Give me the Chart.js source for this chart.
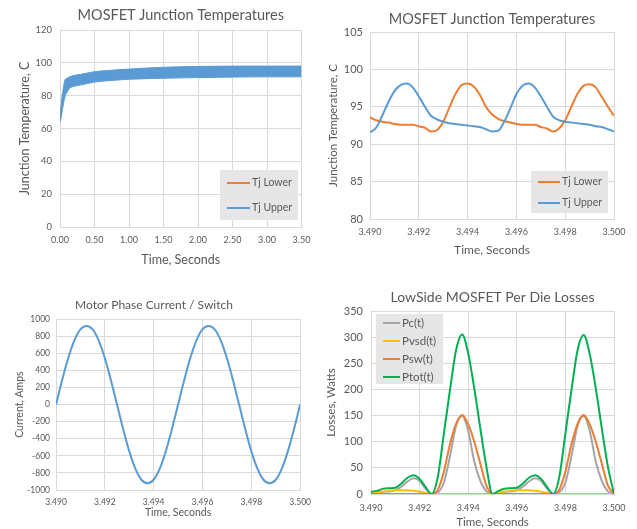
<!DOCTYPE html>
<html>
<head>
<meta charset="utf-8" />
<title>MOSFET charts</title>
<script src="https://cdn.jsdelivr.net/npm/chart.js@4.4.0/dist/chart.umd.min.js"></script>
<style>
  body { margin: 0; background: #fff; }
  #wrap { position: relative; width: 637px; height: 529px; }
  canvas { position: absolute; }
</style>
</head>
<body>
<div id="wrap">
  <canvas id="tjLong" width="318" height="272" style="left:0;top:0"></canvas>
  <canvas id="tjZoom" width="319" height="265" style="left:318px;top:0"></canvas>
  <canvas id="current" width="318" height="244" style="left:0;top:285px"></canvas>
  <canvas id="losses" width="319" height="249" style="left:318px;top:280px"></canvas>
</div>
<script>
// whole run, 0..3.5 s. Tj Upper is a dense ripple, kept here as its envelope
var longTime = [0, 0.02, 0.05, 0.07, 0.1, 0.14, 0.2, 0.3, 0.5, 0.75, 1.0, 1.5, 2.0, 2.5, 3.0, 3.5];
var upperMax = [64, 76, 85, 89.5, 90.5, 91.5, 92.3, 93, 94.6, 95.5, 96.2, 97.3, 97.8, 98, 98, 98];
var upperMin = [64, 68, 75, 79, 82, 84.5, 85.7, 86.5, 88.3, 89.3, 90, 90.6, 91, 91.3, 91.5, 91.5];
var lowerMid = [65, 72, 80, 84, 86, 88, 89, 89.8, 91.5, 92.4, 93.1, 94, 94.4, 94.6, 94.8, 94.8];

// last 10 ms of the run
var t = [3.49, 3.49025, 3.4905, 3.49075, 3.491, 3.49125, 3.4915, 3.49175, 3.492, 3.49225,
         3.4925, 3.49275, 3.493, 3.49325, 3.4935, 3.49375, 3.494, 3.49425, 3.4945, 3.49475,
         3.495, 3.49525, 3.4955, 3.49575, 3.496, 3.49625, 3.4965, 3.49675, 3.497, 3.49725,
         3.4975, 3.49775, 3.498, 3.49825, 3.4985, 3.49875, 3.499, 3.49925, 3.4995, 3.49975, 3.5];

var tjLower = [93.6, 93.2, 93.0, 92.9, 92.7, 92.6, 92.6, 92.6, 92.4, 92.2,
               91.7, 91.9, 93.0, 94.9, 96.7, 97.9, 98.1, 97.7, 96.6, 95.0,
               94.0, 93.4, 93.1, 92.9, 92.7, 92.6, 92.6, 92.6, 92.3, 92.1,
               91.7, 92.1, 93.2, 95.0, 96.7, 97.8, 98.0, 97.6, 96.3, 95.0, 93.8];
var tjUpper = [91.6, 92.2, 93.8, 95.6, 97.1, 97.9, 98.1, 97.6, 96.4, 95.0,
               93.8, 93.3, 93.0, 92.8, 92.7, 92.6, 92.5, 92.4, 92.3, 92.0,
               91.7, 91.8, 93.0, 94.8, 96.7, 97.8, 98.1, 97.6, 96.4, 95.0,
               93.7, 93.2, 93.0, 92.9, 92.8, 92.7, 92.6, 92.4, 92.3, 92.0, 91.7];

var phaseAmps = [0, 285, 545, 750, 880, 920, 880, 750, 545, 285,
                 0, -285, -545, -750, -880, -920, -880, -750, -545, -285,
                 0, 285, 545, 750, 880, 920, 880, 750, 545, 285,
                 0, -285, -545, -750, -880, -920, -880, -750, -545, -285, 0];

var pc   = [0, 1, 4, 5, 7, 14, 24, 30, 25, 10,
            0, 3, 22, 72, 130, 149, 121, 62, 25, 5,
            0, 1, 4, 5, 7, 14, 24, 30, 25, 10,
            0, 3, 22, 72, 130, 149, 121, 62, 25, 5, 0];
var pvsd = [0, 3, 4.5, 6, 7, 7, 7, 6, 4.5, 2,
            0, 0, 0, 0, 0, 0, 0, 0, 0, 0,
            0, 3, 4.5, 6, 7, 7, 7, 6, 4.5, 2,
            0, 0, 0, 0, 0, 0, 0, 0, 0, 0, 0];
var psw  = [0, 0, 0, 0, 0, 0, 0, 0, 0, 0,
            0, 8, 43, 95, 134, 151, 133, 100, 58, 16,
            0, 0, 0, 0, 0, 0, 0, 0, 0, 0,
            0, 8, 43, 95, 134, 151, 133, 100, 58, 16, 0];
var ptot = [4, 6, 10, 11, 12, 20, 31, 36, 29, 13,
            0, 33, 116, 199, 275, 305, 269, 202, 125, 52,
            0, 6, 10, 11, 12, 20, 31, 36, 29, 13,
            0, 33, 116, 199, 275, 304, 268, 202, 125, 52, 0];

var BLUE = '#5b9bd5', ORANGE = '#ed7d31', GRAY = '#a5a5a5', YELLOW = '#ffc000', GREEN = '#00b050';
var GRID = '#d9d9d9', TEXT = '#595959';

Chart.defaults.font.family = 'Lato, sans-serif';
Chart.defaults.color = TEXT;
Chart.defaults.animation = false;
Chart.defaults.elements.point.radius = 0;
Chart.defaults.elements.line.cubicInterpolationMode = 'monotone';
Chart.defaults.elements.line.borderWidth = 2;

function pairs(xs, ys) {
  return xs.map(function (x, i) { return { x: x, y: ys[i] }; });
}

// Excel-like value axis, size forced so the plot boxes line up with the picture
function axis(o) {
  return {
    type: 'linear',
    min: o.min, max: o.max,
    grid: { color: GRID, drawTicks: false },
    border: { color: GRID },
    ticks: {
      stepSize: o.step, padding: o.pad, font: { size: o.tickSize },
      callback: function (v) { return o.digits ? v.toFixed(o.digits) : String(v); }
    },
    title: { display: true, text: o.title, font: { size: o.titleSize }, padding: o.titlePad },
    afterFit: function (s) { if (s.isHorizontal()) s.height = o.size; else s.width = o.size; }
  };
}

function title(text, size, top, bottom, full) {
  return { display: true, text: text, color: TEXT, fullSize: full,
           font: { size: size, weight: 'normal' }, padding: { top: top, bottom: bottom } };
}

// grey legend box sitting inside the plot, like the Excel one
var boxLegend = {
  id: 'boxLegend',
  afterDraw: function (chart, args, o) {
    var ctx = chart.ctx;
    var items = chart.data.datasets.filter(function (d) { return d.label; });
    ctx.save();
    ctx.fillStyle = '#e6e6e6';
    ctx.fillRect(o.x, o.y, o.w, o.h);
    ctx.font = o.size + 'px Lato, sans-serif';
    ctx.textBaseline = 'middle';
    items.forEach(function (d, i) {
      var y = o.y + o.first + i * o.gap;
      ctx.strokeStyle = d.borderColor;
      ctx.lineWidth = 2;
      ctx.beginPath();
      ctx.moveTo(o.x + o.lx, y);
      ctx.lineTo(o.x + o.lx + o.len, y);
      ctx.stroke();
      ctx.fillStyle = TEXT;
      ctx.fillText(d.label, o.x + o.lx + o.len + 2, y);
    });
    ctx.restore();
  }
};

new Chart(document.getElementById('tjLong'), {
  type: 'line',
  data: {
    datasets: [
      { label: 'Tj Lower', data: pairs(longTime, lowerMid), borderColor: ORANGE, order: 3 },
      { label: 'Tj Upper', data: pairs(longTime, upperMax), borderColor: BLUE, backgroundColor: BLUE,
        borderWidth: 1, fill: '+1', order: 1 },
      { data: pairs(longTime, upperMin), borderColor: BLUE, borderWidth: 1, order: 2 }
    ]
  },
  options: {
    responsive: false,
    layout: { padding: { left: 0, top: 0, right: 13, bottom: 0 } },
    scales: {
      x: axis({ min: 0, max: 3.5, step: 0.5, digits: 2, pad: 7.6, tickSize: 9, title: 'Time, Seconds',
                titleSize: 12.5, titlePad: { top: 0, bottom: 4.5 }, size: 45 }),
      y: axis({ min: 0, max: 120, step: 20, pad: 8, tickSize: 9.5, title: 'Junction Temperature, C',
                titleSize: 12.5, titlePad: { top: 17.5, bottom: 0 }, size: 60 })
    },
    plugins: {
      legend: { display: false },
      tooltip: { enabled: false },
      title: title('MOSFET Junction Temperatures', 14.5, 6.3, 6.3, false),
      boxLegend: { x: 220, y: 170, w: 78, h: 50, first: 13, gap: 25, lx: 7, len: 23, size: 10.5 }
    }
  },
  plugins: [boxLegend]
});

new Chart(document.getElementById('tjZoom'), {
  type: 'line',
  data: {
    datasets: [
      { label: 'Tj Lower', data: pairs(t, tjLower), borderColor: ORANGE, order: 2 },
      { label: 'Tj Upper', data: pairs(t, tjUpper), borderColor: BLUE, order: 1 }
    ]
  },
  options: {
    responsive: false,
    layout: { padding: { left: 0, top: 0, right: 23, bottom: 0 } },
    scales: {
      x: axis({ min: 3.49, max: 3.5, step: 0.002, digits: 3, pad: 7.6, tickSize: 9, title: 'Time, Seconds',
                titleSize: 12, titlePad: { top: 0, bottom: 7.8 }, size: 46 }),
      y: axis({ min: 80, max: 105, step: 5, pad: 7, tickSize: 11, title: 'Junction Temperature, C',
                titleSize: 11.5, titlePad: { top: 8.1, bottom: 0 }, size: 52 })
    },
    plugins: {
      legend: { display: false },
      tooltip: { enabled: false },
      title: title('MOSFET Junction Temperatures', 14.5, 10.3, 4.3, false),
      boxLegend: { x: 213, y: 171, w: 77, h: 42, first: 11, gap: 21, lx: 7, len: 22, size: 10.5 }
    }
  },
  plugins: [boxLegend]
});

new Chart(document.getElementById('current'), {
  type: 'line',
  data: {
    datasets: [
      { data: pairs(t, phaseAmps), borderColor: BLUE }
    ]
  },
  options: {
    responsive: false,
    layout: { padding: { left: 0, top: 0, right: 10, bottom: 0 } },
    scales: {
      x: axis({ min: 3.49, max: 3.5, step: 0.002, digits: 3, pad: 7, tickSize: 8.5, title: 'Time, Seconds',
                titleSize: 10.5, titlePad: { top: 0, bottom: 9.7 }, size: 39 }),
      y: axis({ min: -1000, max: 1000, step: 200, pad: 6, tickSize: 8.5, title: 'Current, Amps',
                titleSize: 10.5, titlePad: { top: 13.7, bottom: 0 }, size: 56 })
    },
    plugins: {
      legend: { display: false },
      tooltip: { enabled: false },
      title: title('Motor Phase Current / Switch', 12, 12.8, 7, true)
    }
  }
});

new Chart(document.getElementById('losses'), {
  type: 'line',
  data: {
    datasets: [
      { label: 'Pc(t)', data: pairs(t, pc), borderColor: GRAY, order: 4 },
      { label: 'Pvsd(t)', data: pairs(t, pvsd), borderColor: YELLOW, order: 3 },
      { label: 'Psw(t)', data: pairs(t, psw), borderColor: ORANGE, order: 2 },
      { label: 'Ptot(t)', data: pairs(t, ptot), borderColor: GREEN, order: 1 }
    ]
  },
  options: {
    responsive: false,
    layout: { padding: { left: 0, top: 0, right: 23, bottom: 0 } },
    scales: {
      x: axis({ min: 3.49, max: 3.5, step: 0.002, digits: 3, pad: 8.6, tickSize: 9, title: 'Time, Seconds',
                titleSize: 11.5, titlePad: { top: 0, bottom: 0 }, size: 35 }),
      y: axis({ min: 0, max: 350, step: 50, pad: 8, tickSize: 11, title: 'Losses, Watts',
                titleSize: 11.5, titlePad: { top: 6.1, bottom: 0 }, size: 53 })
    },
    plugins: {
      legend: { display: false },
      tooltip: { enabled: false },
      title: title('LowSide MOSFET Per Die Losses', 14, 8.6, 5.6, false),
      boxLegend: { x: 58, y: 34, w: 67, h: 70, first: 9, gap: 18, lx: 7, len: 17, size: 11.5 }
    }
  },
  plugins: [boxLegend]
});
</script>
</body>
</html>
